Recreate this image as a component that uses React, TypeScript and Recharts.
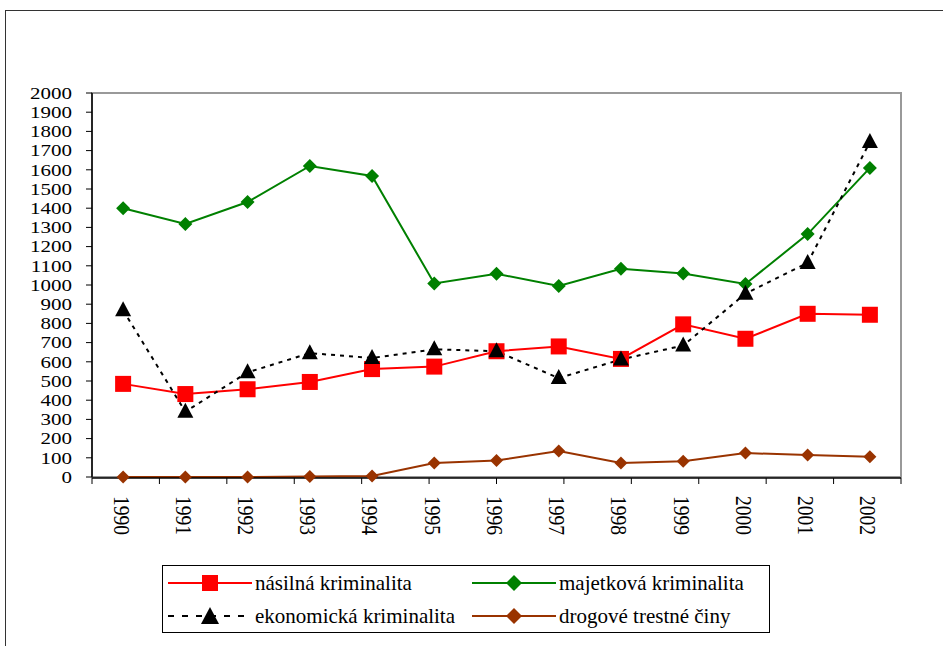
import { LineChart, Line, XAxis, YAxis, ReferenceArea, Legend } from 'recharts';

const years = ['1990', '1991', '1992', '1993', '1994', '1995', '1996', '1997', '1998', '1999', '2000', '2001', '2002'];
const violent = [485, 432, 457, 495, 562, 575, 655, 680, 615, 795, 720, 850, 845];
const property = [1400, 1318, 1432, 1620, 1568, 1008, 1058, 995, 1085, 1060, 1005, 1265, 1610];
const economic = [868, 340, 545, 645, 620, 665, 655, 515, 612, 685, 955, 1115, 1745];
const drugs = [0, 0, 0, 2, 5, 73, 86, 135, 73, 82, 125, 114, 106];
const yTicks = [0, 100, 200, 300, 400, 500, 600, 700, 800, 900, 1000, 1100, 1200, 1300, 1400, 1500, 1600, 1700, 1800, 1900, 2000];
const edgeTicks = [0, 1, 2, 3, 4, 5, 6, 7, 8, 9, 10, 11, 12, 13];

const data = years.map((year, i) => ({
    year,
    violent: violent[i],
    property: property[i],
    economic: economic[i],
    drugs: drugs[i],
}));

const FONT = '"Liberation Serif", "Times New Roman", serif';

const Square = (props: any) => {
    const { cx, cy, fill } = props;
    if (cx == null || cy == null) return null;
    return <rect x={cx - 8} y={cy - 8} width={16} height={16} fill={fill} />;
};

const Diamond = (props: any) => {
    const { cx, cy, fill, size = 7 } = props;
    if (cx == null || cy == null) return null;
    return <polygon points={`${cx},${cy - size} ${cx + size},${cy} ${cx},${cy + size} ${cx - size},${cy}`} fill={fill} />;
};

const Triangle = (props: any) => {
    const { cx, cy, fill } = props;
    if (cx == null || cy == null) return null;
    return <polygon points={`${cx},${cy - 9} ${cx + 8},${cy + 6} ${cx - 8},${cy + 6}`} fill={fill} />;
};

// year labels run top to bottom, a bit squashed like the original export
const YearTick = (props: any) => {
    const { x, y, payload } = props;
    const ty = y + 17;
    return (
        <text x={0} y={0} transform={`translate(${x - 2} ${ty}) scale(1 0.85) rotate(90)`} textAnchor="start" dominantBaseline="central"
            fontFamily={FONT} fontSize={23} fill="#000">
            {payload.value}
        </text>
    );
};

const ValueTick = (props: any) => {
    const { x, y, payload } = props;
    return (
        <text x={0} y={0} transform={`translate(${x} ${y}) scale(1 0.8)`} textAnchor="end" dominantBaseline="central"
            fontFamily={FONT} fontSize={21} fill="#000">
            {payload.value}
        </text>
    );
};

const legendItems = [
    { name: 'násilná kriminalita', color: '#FF0000', dash: undefined, marker: 'square' },
    { name: 'majetková kriminalita', color: '#008000', dash: undefined, marker: 'diamond' },
    { name: 'ekonomická kriminalita', color: '#000000', dash: '6 8', marker: 'triangle' },
    { name: 'drogové trestné činy', color: '#993300', dash: undefined, marker: 'diamond' },
];

const LegendBox = () => (
    <div style={{
        width: 606, height: 66, border: '1px solid #000', background: '#fff', boxSizing: 'content-box',
        display: 'grid', gridTemplateColumns: '304px 302px', gridTemplateRows: '34px 32px', fontFamily: FONT, fontSize: 21,
    }}>
        {legendItems.map((it) => (
            <div key={it.name} style={{ display: 'flex', alignItems: 'center', paddingLeft: 5 }}>
                <svg width={84} height={20} style={{ flex: 'none' }}>
                    <line x1={0} y1={10} x2={84} y2={10} stroke={it.color} strokeWidth={2} strokeDasharray={it.dash} />
                    {it.marker === 'square' && <rect x={34} y={2} width={16} height={16} fill={it.color} />}
                    {it.marker === 'diamond' && <polygon points="42,2 50,10 42,18 34,10" fill={it.color} />}
                    {it.marker === 'triangle' && <polygon points="42,1 51,18 33,18" fill={it.color} />}
                </svg>
                <span style={{ marginLeft: 3, whiteSpace: 'nowrap', lineHeight: 1 }}>{it.name}</span>
            </div>
        ))}
    </div>
);

export default function App() {
    return (
        <div style={{ position: 'absolute', left: 0, top: 0, width: 943, height: 646, background: '#fff' }}>
            <div style={{ position: 'absolute', left: 5, top: 10, width: 938, height: 636, borderTop: '1.5px solid #333', borderLeft: '1.5px solid #333' }} />
            <LineChart width={943} height={646} data={data} margin={{ top: 93, right: 42, left: 0, bottom: 167 }}
                style={{ position: 'absolute', left: 0, top: 0 }}>
                <ReferenceArea y1={0} y2={2000} fill="none" stroke="#999" strokeWidth={2} />
                <XAxis dataKey="year" scale="band" interval={0} height={1} axisLine={false} tickLine={false} tickSize={0} tick={<YearTick />} />
                <XAxis xAxisId="edges" type="number" domain={[0, 13]} ticks={edgeTicks} allowDataOverflow height={1}
                    axisLine={{ stroke: '#000', strokeWidth: 1.5 }} tickLine={{ stroke: '#000' }} tickSize={6} tick={() => <g />} />
                <YAxis domain={[0, 2000]} ticks={yTicks} interval={0} width={92} axisLine={{ stroke: '#000', strokeWidth: 1.5 }}
                    tickLine={{ stroke: '#000' }} tickSize={6} tickMargin={14} tick={<ValueTick />} />
                <Legend layout="vertical" align="center" verticalAlign="middle" content={<LegendBox />}
                    wrapperStyle={{ left: 162, top: 565, width: 608, height: 68 }} />
                <Line dataKey="violent" name="násilná kriminalita" stroke="#FF0000" strokeWidth={2} dot={<Square fill="#FF0000" />} isAnimationActive={false} />
                <Line dataKey="property" name="majetková kriminalita" stroke="#008000" strokeWidth={2} dot={<Diamond fill="#008000" />} isAnimationActive={false} />
                <Line dataKey="economic" name="ekonomická kriminalita" stroke="#000" strokeWidth={2} strokeDasharray="4 5" dot={<Triangle fill="#000" />} isAnimationActive={false} />
                <Line dataKey="drugs" name="drogové trestné činy" stroke="#993300" strokeWidth={2} dot={<Diamond fill="#993300" size={6.5} />} isAnimationActive={false} />
            </LineChart>
        </div>
    );
}
